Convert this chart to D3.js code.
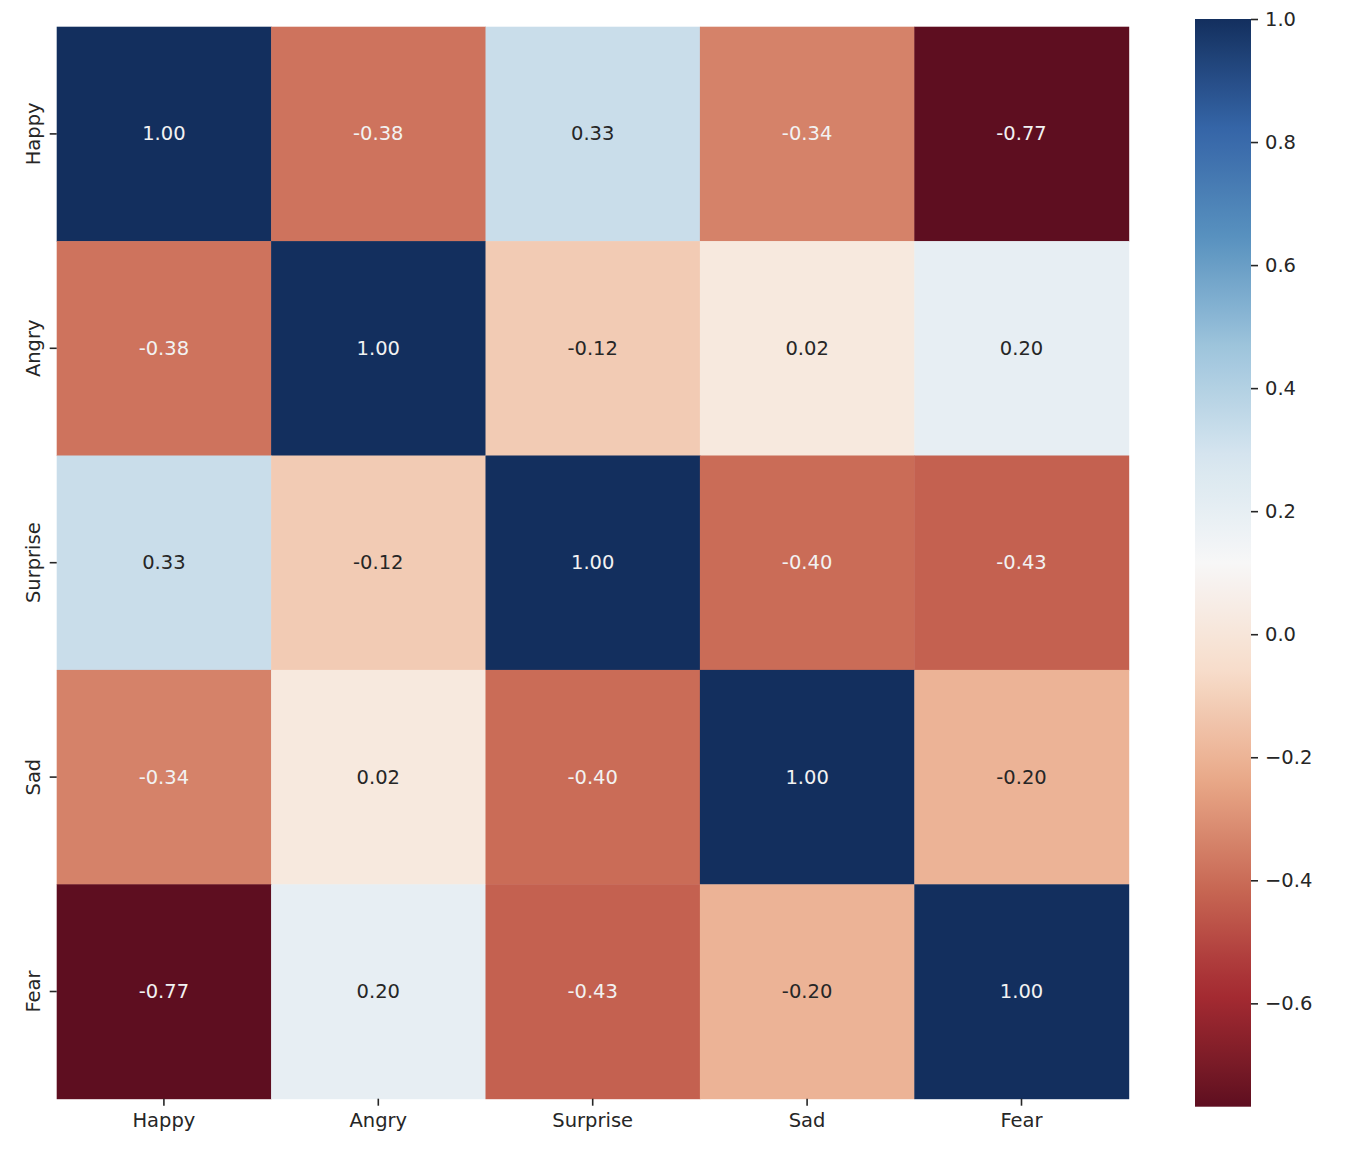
<!DOCTYPE html>
<html>
<head>
<meta charset="utf-8">
<script src="https://cdn.jsdelivr.net/npm/d3@7"></script>
<style>
  body { margin: 0; background: #fff; }
  svg { font-family: "DejaVu Sans", sans-serif; }
</style>
</head>
<body>
<svg width="1348" height="1154"></svg>
<script>
// emotion labels, rows and columns are the same
const emotions = ["Happy", "Angry", "Surprise", "Sad", "Fear"];

// correlation values, one array per row
const happyRow    = [1.00, -0.38, 0.33, -0.34, -0.768];
const angryRow    = [-0.38, 1.00, -0.12, 0.02, 0.20];
const surpriseRow = [0.33, -0.12, 1.00, -0.40, -0.43];
const sadRow      = [-0.34, 0.02, -0.40, 1.00, -0.20];
const fearRow     = [-0.768, 0.20, -0.43, -0.20, 1.00];
const rows = [happyRow, angryRow, surpriseRow, sadRow, fearRow];

const cbarTicks = [-0.6, -0.4, -0.2, 0.0, 0.2, 0.4, 0.6, 0.8, 1.0];

// matplotlib RdBu stops
const rdbu = ["#67001f", "#b2182b", "#d6604d", "#f4a582", "#fddbc7", "#f7f7f7",
              "#d1e5f0", "#92c5de", "#4393c3", "#2166ac", "#053061"];

const cells = [];
rows.forEach((r, i) => r.forEach((v, j) => cells.push({row: emotions[i], col: emotions[j], v: v})));

const vmin = d3.min(cells, d => d.v);
const vmax = d3.max(cells, d => d.v);

const color = d3.scaleLinear()
    .domain(rdbu.map((c, i) => vmin + i * (vmax - vmin) / (rdbu.length - 1)))
    .range(rdbu)
    .interpolate(d3.interpolateRgb)
    .clamp(true);

// the reference screenshot went through a display-p3 profile, colours look a bit duller
function toLin(v) { v = v / 255; return v <= 0.04045 ? v / 12.92 : Math.pow((v + 0.055) / 1.055, 2.4); }
function toGam(v) { v = Math.max(0, Math.min(1, v)); return 255 * (v <= 0.0031308 ? v * 12.92 : 1.055 * Math.pow(v, 1 / 2.4) - 0.055); }
function shown(c) {
    const rgb = d3.rgb(c);
    const r = toLin(rgb.r), g = toLin(rgb.g), b = toLin(rgb.b);
    return d3.rgb(
        toGam(0.8225 * r + 0.1774 * g),
        toGam(0.0332 * r + 0.9669 * g),
        toGam(0.0171 * r + 0.0724 * g + 0.9108 * b)
    ).formatHex();
}

const svg = d3.select("svg");
const textColor = "#262626";
const fontSize = 19.5;

const x = d3.scaleBand().domain(emotions).range([56.7, 1128.7]);
const y = d3.scaleBand().domain(emotions).range([26.7, 1098.7]);

// seaborn picks annotation colour from the cell luminance
function luminance(c) {
    const rgb = d3.rgb(c);
    return 0.2126 * toLin(rgb.r) + 0.7152 * toLin(rgb.g) + 0.0722 * toLin(rgb.b);
}

svg.append("g").selectAll("rect")
    .data(cells)
    .enter()
    .append("rect")
    .attr("x", d => x(d.col))
    .attr("y", d => y(d.row))
    .attr("width", x.bandwidth() + 0.5)
    .attr("height", y.bandwidth() + 0.5)
    .attr("fill", d => shown(color(d.v)));

svg.append("g").selectAll("text")
    .data(cells)
    .enter()
    .append("text")
    .attr("x", d => x(d.col) + x.bandwidth() / 2)
    .attr("y", d => y(d.row) + y.bandwidth() / 2)
    .attr("text-anchor", "middle")
    .attr("dominant-baseline", "central")
    .attr("font-size", fontSize)
    .attr("fill", d => luminance(color(d.v)) > 0.408 ? textColor : "#f2f2f2")
    .text(d => d3.format(".2f")(d.v).replace("−", "-"));

// x axis
const xAxis = svg.append("g")
    .attr("transform", "translate(0,1098.7)")
    .call(d3.axisBottom(x).tickSize(7).tickPadding(7));
xAxis.select(".domain").remove();
xAxis.selectAll("line").attr("stroke", textColor).attr("stroke-width", 1.6);
xAxis.selectAll("text").attr("font-size", fontSize).attr("fill", textColor).attr("font-family", "DejaVu Sans");

// y axis, labels rotated
const yAxis = svg.append("g")
    .attr("transform", "translate(56.7,0)")
    .call(d3.axisLeft(y).tickSize(7).tickPadding(7));
yAxis.select(".domain").remove();
yAxis.selectAll("line").attr("stroke", textColor).attr("stroke-width", 1.6);
yAxis.selectAll("text")
    .attr("font-size", fontSize).attr("fill", textColor).attr("font-family", "DejaVu Sans")
    .attr("x", null).attr("dy", null)
    .attr("text-anchor", "middle")
    .attr("transform", "translate(-17,0) rotate(-90)");

// colorbar
const cbX = 1195, cbW = 56;
const cbY = d3.scaleLinear().domain([vmin, vmax]).range([1106.7, 19]);

const grad = svg.append("defs").append("linearGradient")
    .attr("id", "cbar")
    .attr("x1", 0).attr("y1", 1).attr("x2", 0).attr("y2", 0);
d3.range(0, 1.0001, 0.02).forEach(t => {
    grad.append("stop")
        .attr("offset", t)
        .attr("stop-color", shown(color(vmin + t * (vmax - vmin))));
});

svg.append("rect")
    .attr("x", cbX)
    .attr("y", cbY(vmax))
    .attr("width", cbW)
    .attr("height", cbY(vmin) - cbY(vmax))
    .attr("fill", "url(#cbar)");

const cAxis = svg.append("g")
    .attr("transform", `translate(${cbX + cbW},0)`)
    .call(d3.axisRight(cbY).tickValues(cbarTicks).tickFormat(d3.format(".1f")).tickSize(7).tickPadding(7));
cAxis.select(".domain").remove();
cAxis.selectAll("line").attr("stroke", textColor).attr("stroke-width", 1.6);
cAxis.selectAll("text").attr("font-size", fontSize).attr("fill", textColor).attr("font-family", "DejaVu Sans");
</script>
</body>
</html>
